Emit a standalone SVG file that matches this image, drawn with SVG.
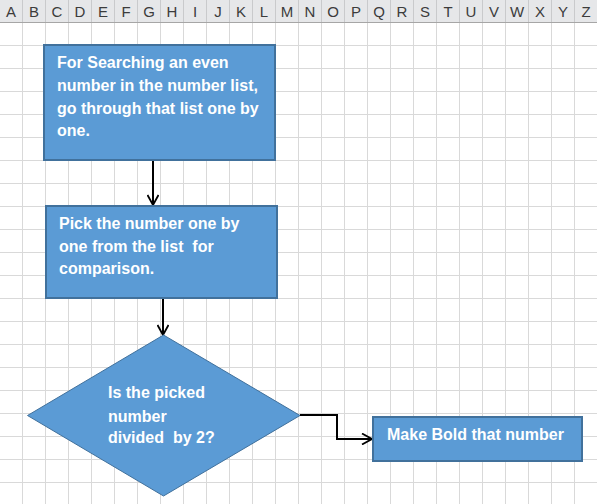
<svg xmlns="http://www.w3.org/2000/svg" width="597" height="504" viewBox="0 0 597 504">
<defs>
<style>
.grid line{stroke:#d9d9d9;stroke-width:1}
.hdr{font-family:"Liberation Sans",Arial,sans-serif;font-size:15px;fill:#3c3c3c;text-anchor:middle}
.box{fill:#5b9bd5;stroke:#41719c;stroke-width:2}
.dia{fill:#5b9bd5;stroke:#41719c;stroke-width:1}
.t{font-family:"Liberation Sans",Arial,sans-serif;font-size:16px;font-weight:bold;fill:#ffffff}
.con{fill:none;stroke:#000000;stroke-width:2}
</style>
<marker id="arr" viewBox="0 0 12 12" refX="11" refY="6" markerWidth="12" markerHeight="12" markerUnits="userSpaceOnUse" orient="auto">
<path d="M1,0.5 L11,6 L1,11.5" fill="none" stroke="#000" stroke-width="1.8"/>
</marker>
</defs>
<rect width="597" height="504" fill="#ffffff"/>
<g class="grid" id="grid">
<line x1="22.5" y1="23" x2="22.5" y2="504"/><line x1="45.5" y1="23" x2="45.5" y2="504"/><line x1="68.5" y1="23" x2="68.5" y2="504"/><line x1="91.5" y1="23" x2="91.5" y2="504"/><line x1="114.5" y1="23" x2="114.5" y2="504"/><line x1="137.5" y1="23" x2="137.5" y2="504"/><line x1="160.5" y1="23" x2="160.5" y2="504"/><line x1="183.5" y1="23" x2="183.5" y2="504"/><line x1="206.5" y1="23" x2="206.5" y2="504"/><line x1="229.5" y1="23" x2="229.5" y2="504"/><line x1="252.5" y1="23" x2="252.5" y2="504"/><line x1="275.5" y1="23" x2="275.5" y2="504"/><line x1="298.5" y1="23" x2="298.5" y2="504"/><line x1="321.5" y1="23" x2="321.5" y2="504"/><line x1="344.5" y1="23" x2="344.5" y2="504"/><line x1="367.5" y1="23" x2="367.5" y2="504"/><line x1="390.5" y1="23" x2="390.5" y2="504"/><line x1="413.5" y1="23" x2="413.5" y2="504"/><line x1="436.5" y1="23" x2="436.5" y2="504"/><line x1="459.5" y1="23" x2="459.5" y2="504"/><line x1="482.5" y1="23" x2="482.5" y2="504"/><line x1="505.5" y1="23" x2="505.5" y2="504"/><line x1="528.5" y1="23" x2="528.5" y2="504"/><line x1="551.5" y1="23" x2="551.5" y2="504"/><line x1="574.5" y1="23" x2="574.5" y2="504"/>
<line x1="0" y1="45.5" x2="597" y2="45.5"/><line x1="0" y1="68.5" x2="597" y2="68.5"/><line x1="0" y1="91.5" x2="597" y2="91.5"/><line x1="0" y1="114.5" x2="597" y2="114.5"/><line x1="0" y1="137.5" x2="597" y2="137.5"/><line x1="0" y1="160.5" x2="597" y2="160.5"/><line x1="0" y1="183.5" x2="597" y2="183.5"/><line x1="0" y1="206.5" x2="597" y2="206.5"/><line x1="0" y1="229.5" x2="597" y2="229.5"/><line x1="0" y1="252.5" x2="597" y2="252.5"/><line x1="0" y1="275.5" x2="597" y2="275.5"/><line x1="0" y1="298.5" x2="597" y2="298.5"/><line x1="0" y1="321.5" x2="597" y2="321.5"/><line x1="0" y1="344.5" x2="597" y2="344.5"/><line x1="0" y1="367.5" x2="597" y2="367.5"/><line x1="0" y1="390.5" x2="597" y2="390.5"/><line x1="0" y1="413.5" x2="597" y2="413.5"/><line x1="0" y1="436.5" x2="597" y2="436.5"/><line x1="0" y1="459.5" x2="597" y2="459.5"/><line x1="0" y1="482.5" x2="597" y2="482.5"/>
</g>
<g id="header">
<rect x="0" y="0" width="597" height="22.5" fill="#e6e7e9"/>
<g stroke="#c9cacc" stroke-width="1">
<line x1="22.5" y1="0" x2="22.5" y2="22"/><line x1="45.5" y1="0" x2="45.5" y2="22"/><line x1="68.5" y1="0" x2="68.5" y2="22"/><line x1="91.5" y1="0" x2="91.5" y2="22"/><line x1="114.5" y1="0" x2="114.5" y2="22"/><line x1="137.5" y1="0" x2="137.5" y2="22"/><line x1="160.5" y1="0" x2="160.5" y2="22"/><line x1="183.5" y1="0" x2="183.5" y2="22"/><line x1="206.5" y1="0" x2="206.5" y2="22"/><line x1="229.5" y1="0" x2="229.5" y2="22"/><line x1="252.5" y1="0" x2="252.5" y2="22"/><line x1="275.5" y1="0" x2="275.5" y2="22"/><line x1="298.5" y1="0" x2="298.5" y2="22"/><line x1="321.5" y1="0" x2="321.5" y2="22"/><line x1="344.5" y1="0" x2="344.5" y2="22"/><line x1="367.5" y1="0" x2="367.5" y2="22"/><line x1="390.5" y1="0" x2="390.5" y2="22"/><line x1="413.5" y1="0" x2="413.5" y2="22"/><line x1="436.5" y1="0" x2="436.5" y2="22"/><line x1="459.5" y1="0" x2="459.5" y2="22"/><line x1="482.5" y1="0" x2="482.5" y2="22"/><line x1="505.5" y1="0" x2="505.5" y2="22"/><line x1="528.5" y1="0" x2="528.5" y2="22"/><line x1="551.5" y1="0" x2="551.5" y2="22"/><line x1="574.5" y1="0" x2="574.5" y2="22"/>
</g>
<line x1="0" y1="22.5" x2="597" y2="22.5" stroke="#a6a6a6" stroke-width="1"/>
<text class="hdr" y="17"><tspan x="11">A</tspan><tspan x="34">B</tspan><tspan x="57">C</tspan><tspan x="80">D</tspan><tspan x="103">E</tspan><tspan x="126">F</tspan><tspan x="149">G</tspan><tspan x="172">H</tspan><tspan x="195">I</tspan><tspan x="218">J</tspan><tspan x="241">K</tspan><tspan x="264">L</tspan><tspan x="287">M</tspan><tspan x="310">N</tspan><tspan x="333">O</tspan><tspan x="356">P</tspan><tspan x="379">Q</tspan><tspan x="402">R</tspan><tspan x="425">S</tspan><tspan x="448">T</tspan><tspan x="471">U</tspan><tspan x="494">V</tspan><tspan x="517">W</tspan><tspan x="540">X</tspan><tspan x="563">Y</tspan><tspan x="586">Z</tspan></text>
</g>
<g id="connectors">
<line class="con" x1="153" y1="160" x2="153" y2="205" marker-end="url(#arr)"/>
<line class="con" x1="163" y1="298" x2="163" y2="335" marker-end="url(#arr)"/>
<polyline class="con" points="300,415 337,415 337,439 372,439" marker-end="url(#arr)"/>
</g>
<g id="node1">
<rect class="box" x="44" y="45" width="231" height="115"/>
<text class="t"><tspan x="57" y="68">For Searching an even</tspan><tspan x="57" y="91">number in the number list,</tspan><tspan x="57" y="113.5">go through that list one by</tspan><tspan x="57" y="136">one.</tspan></text>
</g>
<g id="node2">
<rect class="box" x="46" y="206" width="231" height="92"/>
<text class="t" xml:space="preserve"><tspan x="59" y="228.5">Pick the number one by</tspan><tspan x="59" y="251.5">one from the list  for</tspan><tspan x="59" y="273.5">comparison.</tspan></text>
</g>
<g id="node3">
<polygon class="dia" points="163.5,335 300,415.5 163.5,496 27.5,415.5"/>
<text class="t" xml:space="preserve"><tspan x="108" y="398">Is the picked</tspan><tspan x="108" y="421.5">number</tspan><tspan x="108" y="443">divided  by 2?</tspan></text>
</g>
<g id="node4">
<rect class="box" x="373" y="417" width="209" height="44"/>
<text class="t" x="387" y="440">Make Bold that number</text>
</g>
</svg>
